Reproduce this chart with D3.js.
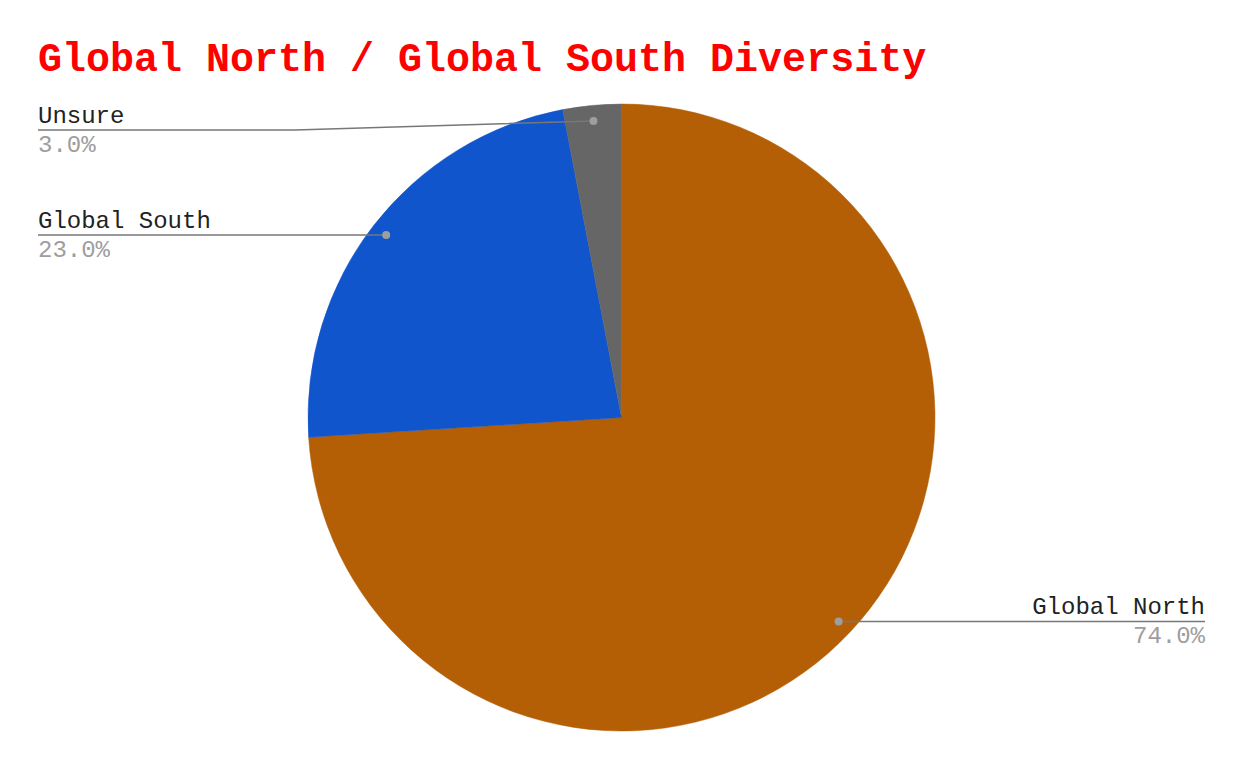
<!DOCTYPE html>
<html>
<head>
<meta charset="utf-8">
<script src="https://cdn.jsdelivr.net/npm/d3@7"></script>
<style>
  body { margin: 0; background: #fff; }
  svg { display: block; }
</style>
</head>
<body>
<svg width="1244" height="770"></svg>
<script>
var categories = ["Global North", "Global South", "Unsure"];
var values = [74.0, 23.0, 3.0];
var colors = ["#b45f06", "#1155cc", "#666666"];

var svg = d3.select("svg");
var width = +svg.attr("width");
var height = +svg.attr("height");

var cx = 621.5, cy = 417.5, radius = 313.5;
var labelLeft = 38, labelRight = 1205, minLineY = 130;
var monoFont = "'Courier New', 'Liberation Mono', monospace";

svg.append("text")
  .attr("x", 38)
  .attr("y", 71)
  .style("font-family", monoFont)
  .style("font-weight", "bold")
  .style("font-size", "40px")
  .style("fill", "#ff0000")
  .text("Global North / Global South Diversity");

var data = categories.map(function(c, i) {
  return {name: c, value: values[i], color: colors[i]};
});

var pie = d3.pie().sort(null).value(function(d) { return d.value; });
var arc = d3.arc().innerRadius(0).outerRadius(radius);

var g = svg.append("g").attr("transform", "translate(" + cx + "," + cy + ")");
var arcs = pie(data);

g.selectAll("path.slice")
  .data(arcs)
  .enter()
  .append("path")
  .attr("class", "slice")
  .attr("d", arc)
  .style("fill", function(d) { return d.data.color; })
  .style("stroke", function(d) { return d.data.color; })
  .style("stroke-width", 0.5);

// leader lines + labels
var total = d3.sum(values);
arcs.forEach(function(d) {
  var mid = (d.startAngle + d.endAngle) / 2;
  var px = cx + Math.sin(mid) * radius * 0.95;
  var py = cy - Math.cos(mid) * radius * 0.95;
  var right = Math.sin(mid) > 0;
  var lineY = Math.max(py, minLineY);
  var endX = right ? labelRight : labelLeft;
  var bendX = right ? px : 295;

  var pts = [[px, py]];
  if (lineY != py) pts.push([bendX, lineY]);
  pts.push([endX, lineY]);

  svg.append("path")
    .attr("d", d3.line()(pts))
    .style("fill", "none")
    .style("stroke", "#777777")
    .style("stroke-width", 1.5);

  svg.append("circle")
    .attr("cx", px)
    .attr("cy", py)
    .attr("r", 4)
    .style("fill", "#9e9e9e");

  svg.append("text")
    .attr("x", endX)
    .attr("y", lineY - 7)
    .attr("text-anchor", right ? "end" : "start")
    .style("font-family", monoFont)
    .style("font-size", "24px")
    .style("fill", "#222222")
    .text(d.data.name);

  svg.append("text")
    .attr("x", endX)
    .attr("y", lineY + 22)
    .attr("text-anchor", right ? "end" : "start")
    .style("font-family", monoFont)
    .style("font-size", "24px")
    .style("fill", "#9e9e9e")
    .text((d.data.value / total * 100).toFixed(1) + "%");
});
</script>
</body>
</html>
